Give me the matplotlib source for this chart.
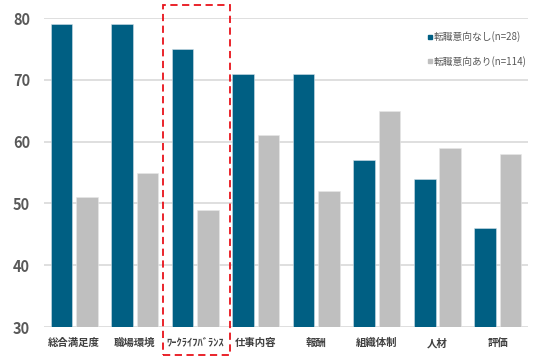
import numpy as np
import matplotlib.pyplot as plt
from matplotlib.patches import Rectangle
from matplotlib.lines import Line2D

plt.rcParams['font.family'] = ['Noto Sans CJK JP', 'DejaVu Sans']

categories = ['総合満足度', '職場環境', 'ﾜｰｸﾗｲﾌﾊﾞﾗﾝｽ', '仕事内容', '報酬', '組織体制', '人材', '評価']
no_intent = [79, 79, 75, 71, 71, 57, 54, 46]
with_intent = [51, 55, 49, 61, 52, 65, 59, 58]
series_names = ['転職意向なし(n=28)', '転職意向あり(n=114)']
yticks = [30, 40, 50, 60, 70, 80]

dark = '#005F83'
gray = '#BFBFBF'

fig = plt.figure(figsize=(5.49, 3.61), dpi=100)
ax = fig.add_axes([0.080, 0.094, 0.882, 0.856])

x = np.arange(len(categories))
w = 0.36
ax.bar(x - 0.03 - w / 2, np.array(no_intent) - 30, w, bottom=30, color=dark,
       edgecolor='#d0e0e8', linewidth=0.4, zorder=3)
ax.bar(x + 0.03 + w / 2, np.array(with_intent) - 30, w, bottom=30, color=gray,
       edgecolor='#e8e8e8', linewidth=0.4, zorder=3)

ax.set_xlim(-0.5, len(categories) - 0.5)
ax.set_ylim(30, 80)
ax.set_yticks(yticks)
ax.set_yticklabels([str(t) for t in yticks], fontsize=10.5, fontweight='bold', color='#595959')
ax.set_xticks(x)
ax.set_xticklabels(categories, fontsize=7.5, fontweight='bold', color='#404040')
ax.tick_params(length=0)
ax.tick_params(axis='x', pad=8)
ax.tick_params(axis='y', pad=10)
ax.yaxis.grid(True, color='#D9D9D9', linewidth=1.2, zorder=0)
for s in ax.spines.values():
    s.set_visible(False)

handles = [Line2D([], [], marker='s', linestyle='', color=dark, markersize=3.5),
           Line2D([], [], marker='s', linestyle='', color=gray, markersize=3.5)]
leg = ax.legend(handles, series_names, loc='upper right', bbox_to_anchor=(1.015, 0.985),
                frameon=False, fontsize=7, handletextpad=0.0, labelspacing=1.4,
                handlelength=0.8, labelcolor='#595959')

# red dashed highlight around the work-life balance group
fig.add_artist(Rectangle((163 / 549, 1 - 355 / 361), 67 / 549, 350 / 361,
                         transform=fig.transFigure, fill=False, edgecolor='#E8121A',
                         linestyle=(0, (4, 2.5)), linewidth=1.3))

fig.savefig('out.png', dpi=100)
